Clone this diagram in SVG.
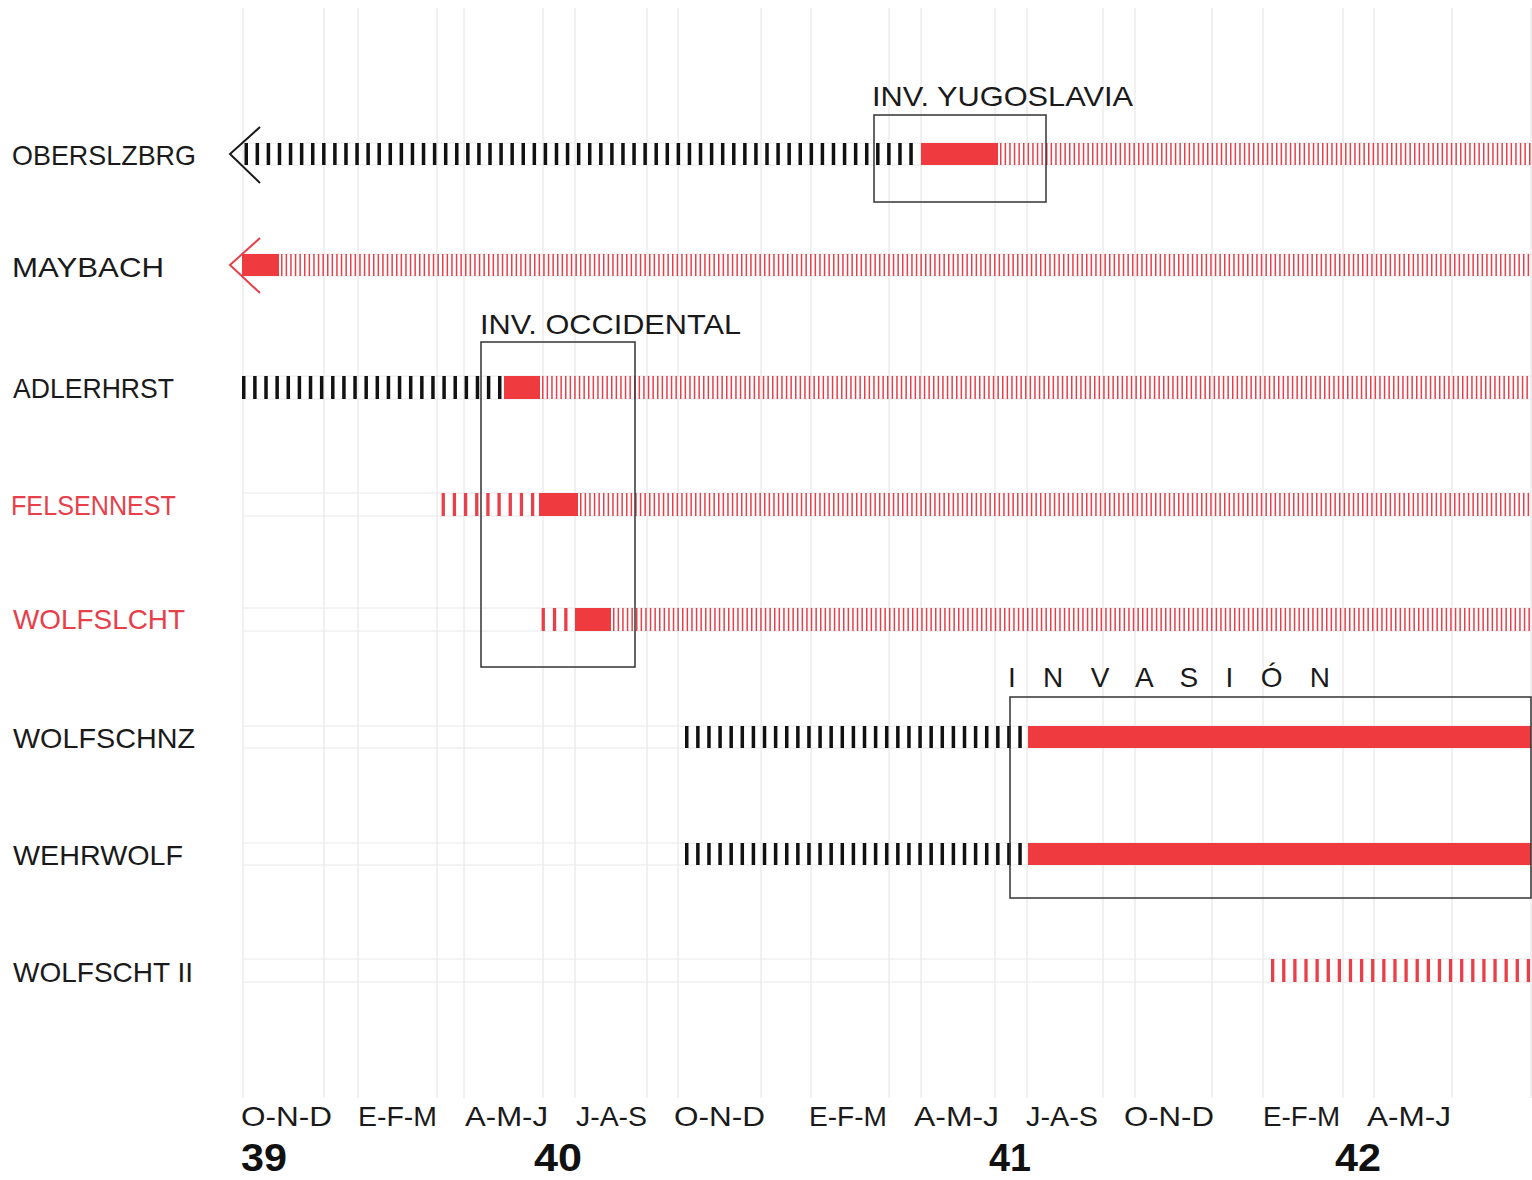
<svg xmlns="http://www.w3.org/2000/svg" width="1532" height="1180" viewBox="0 0 1532 1180">
<style>
.grid{stroke:#e2e2e2;stroke-width:1;fill:none}
.rowline{stroke:#e8e8e8;stroke-width:1;fill:none}
.lbl{font-family:"Liberation Sans",Arial,sans-serif;font-size:28px;fill:#1a1a1a}
.red{fill:#e8404a}
.yr{font-family:"Liberation Sans",Arial,sans-serif;font-size:38px;font-weight:bold;fill:#111}
.bt{stroke:#111;stroke-dasharray:3.5 7.6;fill:none}
.rt{stroke:#e8404a;stroke-dasharray:3.4 7.7;fill:none}
.thin{stroke:#e8404a;stroke-dasharray:1.5 3.1;fill:none}
.bar{fill:#ef3b3f}
.box{fill:none;stroke:#333;stroke-width:1.5}
</style>
<rect width="1532" height="1180" fill="#fff"/>
<g id="grid">
<path class="grid" d="M243 8V1098M324 8V1098M358 8V1098M437 8V1098M464 8V1098M543 8V1098M575 8V1098M647 8V1098M678 8V1098M761 8V1098M811 8V1098M889 8V1098M921 8V1098M995 8V1098M1027 8V1098M1103 8V1098M1135 8V1098M1212 8V1098M1263 8V1098M1343 8V1098M1374 8V1098M1452 8V1098M1531 8V1098"/>
<path class="rowline" d="M243 143H1531M243 165H1531M243 254H1531M243 276H1531M243 376H1531M243 399H1531M243 493H1531M243 516H1531M243 608H1531M243 631H1531M243 726H1531M243 748H1531M243 843H1531M243 865H1531M243 959H1531M243 982H1531"/>
</g>
<g id="row-oberslzbrg">
<text class="lbl" x="12" y="165" textLength="184" lengthAdjust="spacingAndGlyphs">OBERSLZBRG</text>
<polyline points="260,127 230,154 260,183" fill="none" stroke="#1a1a1a" stroke-width="2"/>
<line class="bt" x1="244.5" y1="154" x2="914" y2="154" stroke-width="22" style="stroke-dasharray:3.5 7.58"/>
<rect class="bar" x="921" y="143" width="77" height="22"/>
<line class="thin" x1="1000" y1="154" x2="1531" y2="154" stroke-width="22"/>
</g>
<g id="row-maybach">
<text class="lbl" x="12" y="277" textLength="152" lengthAdjust="spacingAndGlyphs">MAYBACH</text>
<polyline points="260,238 230,265 260,293" fill="none" stroke="#e8404a" stroke-width="2"/>
<rect class="bar" x="242" y="254" width="37" height="22"/>
<line class="thin" x1="281" y1="265" x2="1531" y2="265" stroke-width="22"/>
</g>
<g id="row-adlerhrst">
<text class="lbl" x="13" y="398" textLength="161" lengthAdjust="spacingAndGlyphs">ADLERHRST</text>
<line class="bt" x1="242" y1="387.5" x2="502" y2="387.5" stroke-width="23" style="stroke-dasharray:3.5 7.63"/>
<rect class="bar" x="504" y="376" width="36" height="23"/>
<line class="thin" x1="542" y1="387.5" x2="1531" y2="387.5" stroke-width="23"/>
</g>
<g id="row-felsennest">
<text class="lbl red" x="11" y="515" textLength="165" lengthAdjust="spacingAndGlyphs">FELSENNEST</text>
<line class="rt" x1="441.6" y1="504.5" x2="535" y2="504.5" stroke-width="23" style="stroke-dasharray:3.3 7.87"/>
<rect class="bar" x="539" y="493" width="39" height="23"/>
<line class="thin" x1="580" y1="504.5" x2="1531" y2="504.5" stroke-width="23"/>
</g>
<g id="row-wolfslcht">
<text class="lbl red" x="13" y="629" textLength="172" lengthAdjust="spacingAndGlyphs">WOLFSLCHT</text>
<line class="rt" x1="541.6" y1="619.5" x2="569" y2="619.5" stroke-width="23" style="stroke-dasharray:3.3 8"/>
<rect class="bar" x="575" y="608" width="36" height="23"/>
<line class="thin" x1="613" y1="619.5" x2="1531" y2="619.5" stroke-width="23"/>
</g>
<g id="row-wolfschnz">
<text class="lbl" x="13" y="748" textLength="182" lengthAdjust="spacingAndGlyphs">WOLFSCHNZ</text>
<line class="bt" x1="685" y1="737" x2="1022" y2="737" stroke-width="22" style="stroke-dasharray:3.5 7.61"/>
<rect class="bar" x="1028" y="726" width="503" height="22"/>
</g>
<g id="row-wehrwolf">
<text class="lbl" x="13" y="865" textLength="170" lengthAdjust="spacingAndGlyphs">WEHRWOLF</text>
<line class="bt" x1="685" y1="854" x2="1022" y2="854" stroke-width="22" style="stroke-dasharray:3.5 7.61"/>
<rect class="bar" x="1028" y="843" width="503" height="22"/>
</g>
<g id="row-wolfscht-ii">
<text class="lbl" x="13" y="982" textLength="180" lengthAdjust="spacingAndGlyphs">WOLFSCHT II</text>
<line class="rt" x1="1271" y1="970.5" x2="1531" y2="970.5" stroke-width="23" style="stroke-dasharray:3.3 7.82"/>
</g>
<g id="box-yugoslavia">
<rect class="box" x="874" y="115" width="172" height="87"/>
<text class="lbl" x="872" y="106" textLength="261" lengthAdjust="spacingAndGlyphs">INV. YUGOSLAVIA</text>
</g>
<g id="box-occidental">
<rect class="box" x="481" y="342" width="154" height="325"/>
<text class="lbl" x="480" y="334" textLength="261" lengthAdjust="spacingAndGlyphs">INV. OCCIDENTAL</text>
</g>
<g id="box-invasion">
<rect class="box" x="1010" y="697" width="521" height="201"/>
<text class="lbl" x="1008" y="687" textLength="322" lengthAdjust="spacing">I N V A S I Ó N</text>
</g>
<g id="axis">
<text class="lbl" x="241" y="1126" textLength="91" lengthAdjust="spacingAndGlyphs">O-N-D</text>
<text class="lbl" x="358" y="1126" textLength="79" lengthAdjust="spacingAndGlyphs">E-F-M</text>
<text class="lbl" x="465" y="1126" textLength="83" lengthAdjust="spacingAndGlyphs">A-M-J</text>
<text class="lbl" x="576" y="1126" textLength="71" lengthAdjust="spacingAndGlyphs">J-A-S</text>
<text class="lbl" x="674" y="1126" textLength="91" lengthAdjust="spacingAndGlyphs">O-N-D</text>
<text class="lbl" x="809" y="1126" textLength="78" lengthAdjust="spacingAndGlyphs">E-F-M</text>
<text class="lbl" x="914" y="1126" textLength="85" lengthAdjust="spacingAndGlyphs">A-M-J</text>
<text class="lbl" x="1026" y="1126" textLength="72" lengthAdjust="spacingAndGlyphs">J-A-S</text>
<text class="lbl" x="1124" y="1126" textLength="90" lengthAdjust="spacingAndGlyphs">O-N-D</text>
<text class="lbl" x="1263" y="1126" textLength="77" lengthAdjust="spacingAndGlyphs">E-F-M</text>
<text class="lbl" x="1367" y="1126" textLength="84" lengthAdjust="spacingAndGlyphs">A-M-J</text>
<text class="yr" x="241" y="1171" textLength="46" lengthAdjust="spacingAndGlyphs">39</text>
<text class="yr" x="534" y="1171" textLength="48" lengthAdjust="spacingAndGlyphs">40</text>
<text class="yr" x="989" y="1171" textLength="42" lengthAdjust="spacingAndGlyphs">41</text>
<text class="yr" x="1335" y="1171" textLength="46" lengthAdjust="spacingAndGlyphs">42</text>
</g>
</svg>
